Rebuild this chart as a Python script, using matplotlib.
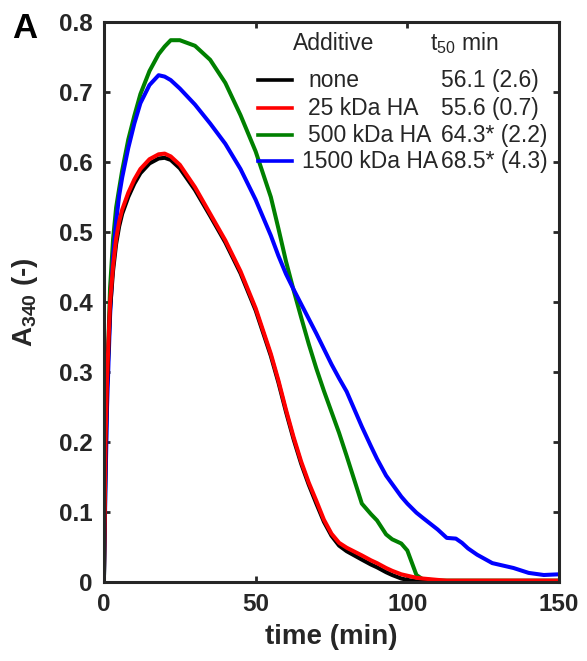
import matplotlib
matplotlib.use('Agg')
import matplotlib.pyplot as plt
from matplotlib.ticker import FormatStrFormatter

plt.rcParams['font.family'] = ['Liberation Sans', 'DejaVu Sans']
plt.rcParams['mathtext.fontset'] = 'custom'
plt.rcParams['mathtext.rm'] = 'Liberation Sans'
plt.rcParams['mathtext.bf'] = 'Liberation Sans:bold'
plt.rcParams['mathtext.it'] = 'Liberation Sans:italic'

# time (min)
time = [0, 0.5, 1, 2, 3, 4, 5, 6, 8, 10, 12, 15, 18, 20, 22, 25, 30, 35, 40, 45,
        50, 55, 57.5, 60, 62.5, 65, 67.5, 70, 72.5, 75, 77.5, 80, 85, 88, 90, 93,
        95, 98, 100, 103, 105, 110, 113, 116, 118, 120, 123, 128, 135, 140, 145, 150]

a340_none = [0.010, 0.19, 0.28, 0.39, 0.445, 0.483, 0.508, 0.526, 0.550, 0.569,
             0.584, 0.598, 0.605, 0.606, 0.603, 0.591, 0.560, 0.523, 0.485, 0.441,
             0.388, 0.323, 0.285, 0.243, 0.204, 0.169, 0.139, 0.112, 0.086, 0.066,
             0.052, 0.044, 0.032, 0.025, 0.021, 0.014,
             0.010, 0.005, 0.003, 0.001, 0.001, 0.0,
             0.0, 0.0, 0.0, 0.0, 0.0, 0.0, 0.0, 0.0, 0.0, 0.0]
a340_ha25 = [0.015, 0.20, 0.29, 0.40, 0.452, 0.490, 0.515, 0.532, 0.556, 0.575,
             0.590, 0.604, 0.611, 0.612, 0.608, 0.596, 0.564, 0.526, 0.488, 0.444,
             0.391, 0.326, 0.288, 0.246, 0.207, 0.172, 0.142, 0.116, 0.089, 0.069,
             0.056, 0.049, 0.038, 0.031, 0.027, 0.020,
             0.016, 0.011, 0.009, 0.006, 0.005, 0.003,
             0.002, 0.002, 0.002, 0.002, 0.002, 0.002, 0.002, 0.002, 0.002, 0.002]
a340_ha500 = [0.010, 0.16, 0.28, 0.42, 0.49, 0.535, 0.562, 0.588, 0.632, 0.666,
              0.697, 0.730, 0.754, 0.765, 0.774, 0.774, 0.766, 0.746, 0.713, 0.667,
              0.615, 0.550, 0.505, 0.458, 0.417, 0.378, 0.340, 0.305, 0.273, 0.243,
              0.213, 0.180, 0.112, 0.097, 0.088, 0.068,
              0.061, 0.055, 0.045, 0.010, 0.004, 0.002,
              0.002, 0.002, 0.002, 0.002, 0.002, 0.002, 0.002, 0.002, 0.002, 0.002]
a340_ha1500 = [0.010, 0.14, 0.25, 0.38, 0.465, 0.515, 0.552, 0.578, 0.620, 0.655,
               0.684, 0.710, 0.724, 0.722, 0.717, 0.705, 0.682, 0.655, 0.626, 0.590,
               0.546, 0.495, 0.466, 0.440, 0.418, 0.397, 0.376, 0.355, 0.333, 0.311,
               0.291, 0.272, 0.222, 0.194, 0.176, 0.152,
               0.140, 0.122, 0.112, 0.099, 0.092, 0.075,
               0.063, 0.062, 0.056, 0.048, 0.039, 0.027, 0.020, 0.013, 0.010, 0.011]

additives = ['none', '25 kDa HA', '500 kDa HA', '1500 kDa HA']
t50_labels = ['56.1 (2.6)', '55.6 (0.7)', '64.3* (2.2)', '68.5* (4.3)']
colors = ['black', '#ff0000', '#008000', '#0000ff']
series = [a340_none, a340_ha25, a340_ha500, a340_ha1500]

W, H = 587, 661
fig = plt.figure(figsize=(W / 100, H / 100), dpi=100)
# axes box in pixels: left 104, right 559, top 22, bottom 582
ax = fig.add_axes([104 / W, 1 - 582 / H, 455 / W, 560 / H])

# draw order: green, blue, black, red (red on top)
for idx in [2, 3, 0, 1]:
    ax.plot(time, series[idx], color=colors[idx], lw=2.9,
            solid_joinstyle='round', solid_capstyle='round')

ax.set_xlim(0, 150)
ax.set_ylim(0, 0.8)
ax.set_xticks([0, 50, 100, 150])
ax.set_yticks([0, 0.1, 0.2, 0.3, 0.4, 0.5, 0.6, 0.7, 0.8])
ax.yaxis.set_major_formatter(FormatStrFormatter('%g'))

dark = '#262626'
for sp in ax.spines.values():
    sp.set_linewidth(2.2)
    sp.set_color(dark)
ax.tick_params(direction='in', length=4.5, width=2, color=dark,
               top=True, right=True, labelsize=17.5, labelcolor=dark)
ax.tick_params(axis='x', pad=8)
ax.tick_params(axis='y', pad=8)
for lab in ax.get_xticklabels() + ax.get_yticklabels():
    lab.set_fontweight('bold')

ax.set_xlabel('time (min)', fontsize=20, fontweight='bold', color=dark, labelpad=6)
ax.set_ylabel(r'A$_{\mathregular{340}}$ (-)', fontsize=20, fontweight='bold', color=dark)
ax.yaxis.set_label_coords(-0.14, 0.5)

fig.text(12 / W, 1 - 38 / H, 'A', fontsize=25, fontweight='bold', va='baseline')

# legend drawn by hand (table with t50 column)
def ax_x(px):
    return (px - 104) / 455

def ax_y(py):
    return (582 - py) / 560

ax.text(ax_x(293), ax_y(50), 'Additive', fontsize=16.5, color=dark,
        transform=ax.transAxes, va='baseline')
ax.text(ax_x(430), ax_y(50), r'$\mathregular{t_{50}}$ min', fontsize=16.5, color=dark,
        transform=ax.transAxes, va='baseline')
line_rows = [80, 108, 135, 161]
text_rows = [87, 115, 142, 168]
for i, name in enumerate(additives):
    ax.plot([ax_x(258), ax_x(292)], [ax_y(line_rows[i])] * 2, color=colors[i],
            lw=2.6, transform=ax.transAxes, clip_on=False)
    if i == 3:
        ax.text(ax_x(438), ax_y(text_rows[i]), name, fontsize=16.5, color=dark,
                transform=ax.transAxes, va='baseline', ha='right')
    else:
        ax.text(ax_x(308), ax_y(text_rows[i]), name, fontsize=16.5, color=dark,
                transform=ax.transAxes, va='baseline')
    ax.text(ax_x(441), ax_y(text_rows[i]), t50_labels[i], fontsize=16.5, color=dark,
            transform=ax.transAxes, va='baseline')

fig.savefig('out.png', dpi=100)
